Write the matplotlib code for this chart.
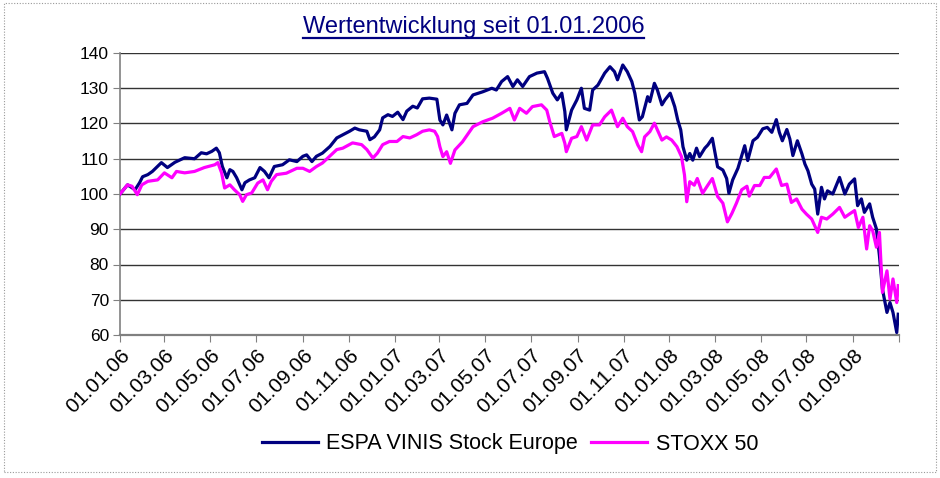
import matplotlib
matplotlib.use('Agg')
import matplotlib.pyplot as plt
import pandas as pd
from matplotlib.lines import Line2D
from matplotlib.patches import Rectangle

plt.rcParams['font.family'] = ['Liberation Sans', 'DejaVu Sans']

title_text = 'Wertentwicklung seit 01.01.2006'
series_names = ['ESPA VINIS Stock Europe', 'STOXX 50']

tick_dates = ['2006-01-01', '2006-03-01', '2006-05-01', '2006-07-01', '2006-09-01', '2006-11-01',
              '2007-01-01', '2007-03-01', '2007-05-01', '2007-07-01', '2007-09-01', '2007-11-01',
              '2008-01-01', '2008-03-01', '2008-05-01', '2008-07-01', '2008-09-01', '2008-11-01']
tick_labels = ['01.01.06', '01.03.06', '01.05.06', '01.07.06', '01.09.06', '01.11.06',
               '01.01.07', '01.03.07', '01.05.07', '01.07.07', '01.09.07', '01.11.07',
               '01.01.08', '01.03.08', '01.05.08', '01.07.08', '01.09.08', '']

espa_dates = [
    '2006-01-01', '2006-01-11', '2006-01-21', '2006-01-27', '2006-01-31', '2006-02-07', '2006-02-13',
    '2006-02-25', '2006-03-05', '2006-03-15', '2006-03-28', '2006-04-10', '2006-04-19', '2006-04-26',
    '2006-05-03', '2006-05-09', '2006-05-13', '2006-05-17', '2006-05-23', '2006-05-27', '2006-05-31',
    '2006-06-05', '2006-06-12', '2006-06-16', '2006-06-22', '2006-06-29', '2006-07-06', '2006-07-12',
    '2006-07-18', '2006-07-25', '2006-08-05', '2006-08-14', '2006-08-24', '2006-09-01', '2006-09-06',
    '2006-09-13', '2006-09-19', '2006-09-27', '2006-10-07', '2006-10-16', '2006-10-24', '2006-11-02',
    '2006-11-09', '2006-11-15', '2006-11-25', '2006-11-29', '2006-12-05', '2006-12-12', '2006-12-16',
    '2006-12-23', '2006-12-29', '2007-01-05', '2007-01-12', '2007-01-17', '2007-01-25', '2007-01-31',
    '2007-02-07', '2007-02-16', '2007-02-26', '2007-03-02', '2007-03-06', '2007-03-11', '2007-03-18',
    '2007-03-22', '2007-03-28', '2007-04-07', '2007-04-15', '2007-04-28', '2007-05-10', '2007-05-16',
    '2007-05-23', '2007-05-31', '2007-06-07', '2007-06-13', '2007-06-20', '2007-06-29', '2007-07-09',
    '2007-07-19', '2007-07-23', '2007-07-30', '2007-08-05', '2007-08-11', '2007-08-15', '2007-08-17',
    '2007-08-24', '2007-08-31', '2007-09-06', '2007-09-10', '2007-09-17', '2007-09-21', '2007-09-28',
    '2007-10-07', '2007-10-14', '2007-10-20', '2007-10-24', '2007-10-31', '2007-11-06', '2007-11-12',
    '2007-11-16', '2007-11-22', '2007-11-26', '2007-12-03', '2007-12-06', '2007-12-12', '2007-12-16',
    '2007-12-22', '2007-12-26', '2008-01-02', '2008-01-08', '2008-01-12', '2008-01-16', '2008-01-19',
    '2008-01-24', '2008-01-28', '2008-02-01', '2008-02-06', '2008-02-10', '2008-02-17', '2008-02-21',
    '2008-02-27', '2008-03-05', '2008-03-12', '2008-03-17', '2008-03-20', '2008-03-25', '2008-04-01',
    '2008-04-10', '2008-04-14', '2008-04-21', '2008-04-27', '2008-05-04', '2008-05-10', '2008-05-16',
    '2008-05-22', '2008-05-26', '2008-05-30', '2008-06-05', '2008-06-09', '2008-06-13', '2008-06-19',
    '2008-06-25', '2008-06-29', '2008-07-03', '2008-07-08', '2008-07-12', '2008-07-16', '2008-07-21',
    '2008-07-25', '2008-07-29', '2008-08-05', '2008-08-14', '2008-08-21', '2008-08-27', '2008-09-03',
    '2008-09-07', '2008-09-12', '2008-09-16', '2008-09-23', '2008-09-27', '2008-10-02', '2008-10-06',
    '2008-10-10', '2008-10-16', '2008-10-20', '2008-10-24', '2008-10-29', '2008-10-31']
espa_values = [
    100.0, 102.6, 101.2, 103.2, 104.9, 105.5, 106.4,
    108.9, 107.5, 109.0, 110.3, 110.0, 111.7, 111.4,
    112.1, 113.0, 111.7, 107.8, 104.6, 106.9, 106.4,
    104.6, 101.2, 103.2, 104.0, 104.6, 107.5, 106.4,
    104.6, 107.8, 108.3, 109.7, 109.2, 110.7, 111.1,
    109.2, 110.7, 111.6, 113.5, 115.9, 116.8, 117.8,
    118.7, 118.2, 117.8, 115.4, 116.2, 118.2, 121.6,
    122.5, 122.0, 123.2, 121.1, 123.5, 124.9, 124.4,
    127.0, 127.2, 126.9, 121.0, 119.6, 122.4, 118.2,
    122.9, 125.3, 125.7, 128.1, 129.0, 130.0, 129.5,
    131.9, 133.3, 130.5, 132.4, 130.5, 133.3, 134.3,
    134.7, 132.8, 128.6, 126.7, 128.6, 123.4, 118.2,
    123.8, 126.7, 130.0, 124.3, 123.8, 129.5, 130.9,
    134.3, 136.1, 134.7, 132.4, 136.6, 134.7, 131.9,
    128.6, 121.0, 121.9, 127.6, 126.2, 131.4, 129.5,
    125.3, 126.7, 128.6, 124.8, 121.0, 118.2, 113.4,
    109.6, 111.5, 109.6, 113.0, 110.6, 113.0, 113.9,
    115.8, 107.7, 106.8, 104.4, 100.2, 104.0, 107.3,
    113.7, 109.5, 115.1, 116.1, 118.5, 118.9, 117.5,
    121.1, 117.5, 115.1, 118.3, 115.6, 110.9, 115.1,
    111.4, 108.5, 106.6, 102.8, 101.4, 94.3, 101.9,
    98.6, 100.9, 100.0, 104.7, 100.0, 102.8, 104.3,
    96.7, 98.6, 94.8, 97.2, 93.4, 90.1, 82.5,
    73.0, 66.4, 69.2, 66.4, 60.7, 65.9]

stoxx_dates = [
    '2006-01-01', '2006-01-11', '2006-01-17', '2006-01-24', '2006-01-30', '2006-02-07', '2006-02-20',
    '2006-03-01', '2006-03-11', '2006-03-17', '2006-03-28', '2006-04-10', '2006-04-23', '2006-05-07',
    '2006-05-11', '2006-05-16', '2006-05-20', '2006-05-27', '2006-06-02', '2006-06-09', '2006-06-13',
    '2006-06-18', '2006-06-25', '2006-07-03', '2006-07-10', '2006-07-16', '2006-07-21', '2006-07-28',
    '2006-08-10', '2006-08-24', '2006-09-01', '2006-09-10', '2006-09-19', '2006-09-27', '2006-10-04',
    '2006-10-16', '2006-10-24', '2006-11-06', '2006-11-18', '2006-11-25', '2006-12-03', '2006-12-09',
    '2006-12-16', '2006-12-25', '2007-01-04', '2007-01-12', '2007-01-21', '2007-01-30', '2007-02-07',
    '2007-02-16', '2007-02-23', '2007-02-27', '2007-03-02', '2007-03-06', '2007-03-11', '2007-03-16',
    '2007-03-22', '2007-04-01', '2007-04-15', '2007-04-28', '2007-05-11', '2007-05-23', '2007-06-03',
    '2007-06-09', '2007-06-16', '2007-06-25', '2007-07-03', '2007-07-15', '2007-07-22', '2007-07-26',
    '2007-08-01', '2007-08-11', '2007-08-15', '2007-08-17', '2007-08-24', '2007-08-31', '2007-09-06',
    '2007-09-13', '2007-09-21', '2007-09-30', '2007-10-07', '2007-10-16', '2007-10-24', '2007-10-31',
    '2007-11-06', '2007-11-13', '2007-11-20', '2007-11-25', '2007-11-29', '2007-12-06', '2007-12-12',
    '2007-12-16', '2007-12-22', '2007-12-28', '2008-01-04', '2008-01-11', '2008-01-17', '2008-01-21',
    '2008-01-24', '2008-01-28', '2008-02-03', '2008-02-07', '2008-02-14', '2008-02-21', '2008-02-27',
    '2008-03-05', '2008-03-12', '2008-03-18', '2008-03-24', '2008-03-30', '2008-04-06', '2008-04-13',
    '2008-04-16', '2008-04-23', '2008-04-30', '2008-05-06', '2008-05-13', '2008-05-22', '2008-05-29',
    '2008-06-05', '2008-06-11', '2008-06-18', '2008-06-25', '2008-07-01', '2008-07-08', '2008-07-16',
    '2008-07-21', '2008-07-28', '2008-08-05', '2008-08-14', '2008-08-21', '2008-08-27', '2008-09-03',
    '2008-09-08', '2008-09-14', '2008-09-19', '2008-09-23', '2008-09-27', '2008-10-02', '2008-10-06',
    '2008-10-10', '2008-10-16', '2008-10-20', '2008-10-24', '2008-10-29', '2008-10-31']
stoxx_values = [
    100.0, 102.6, 102.2, 99.8, 102.6, 103.6, 104.0,
    106.0, 104.6, 106.4, 106.0, 106.4, 107.5, 108.3,
    108.9, 106.0, 101.7, 102.6, 101.2, 99.8, 97.9,
    99.8, 100.3, 103.1, 104.0, 101.2, 103.6, 105.5,
    105.9, 107.3, 107.3, 106.4, 107.8, 108.8, 110.2,
    112.6, 113.0, 114.5, 114.0, 112.6, 110.2, 111.6,
    114.0, 114.9, 114.9, 116.3, 115.9, 116.8, 117.8,
    118.2, 117.8, 116.3, 113.4, 110.6, 112.0, 108.7,
    112.5, 114.8, 119.1, 120.5, 121.5, 122.9, 124.3,
    121.0, 124.3, 122.9, 124.8, 125.3, 123.8, 120.5,
    116.3, 117.2, 114.4, 112.0, 115.8, 116.3, 119.1,
    115.3, 119.6, 119.6, 121.9, 123.8, 119.1, 121.5,
    119.1, 117.7, 113.9, 112.0, 116.2, 117.7, 120.1,
    118.2, 115.3, 116.2, 115.3, 113.4, 110.6, 105.4,
    97.8, 103.5, 102.5, 104.4, 100.2, 102.5, 104.4,
    99.3, 97.4, 92.1, 94.5, 97.4, 101.2, 102.2,
    99.4, 102.4, 102.4, 104.7, 104.7, 107.1, 102.4,
    102.8, 97.6, 98.6, 95.7, 94.3, 92.9, 89.1,
    93.4, 92.9, 94.3, 96.2, 93.4, 94.3, 95.3,
    90.5, 93.4, 84.4, 91.0, 89.6, 84.9, 89.1,
    72.1, 78.2, 70.2, 75.9, 69.2, 74.0]

NAVY = '#000080'
MAGENTA = '#FF00FF'
W, H = 940, 478

fig = plt.figure(figsize=(W / 100, H / 100), dpi=100)
ax = fig.add_axes([120 / W, 1 - 335 / H, (899 - 120) / W, (335 - 53) / H])

ax.plot(pd.to_datetime(espa_dates), espa_values, color=NAVY, lw=2.3,
        solid_joinstyle='round', label=series_names[0], zorder=3)
ax.plot(pd.to_datetime(stoxx_dates), stoxx_values, color=MAGENTA, lw=2.3,
        solid_joinstyle='round', label=series_names[1], zorder=4)

ax.set_ylim(60, 140)
ax.set_yticks(range(60, 141, 10))
ax.set_xlim(pd.Timestamp('2006-01-01'), pd.Timestamp('2008-11-01'))
ax.set_xticks(pd.to_datetime(tick_dates))
ax.set_xticklabels(tick_labels, rotation=45, ha='right', va='top',
                   rotation_mode='anchor', fontsize=15)

ax.yaxis.grid(True, color='#333333', lw=1.0)
ax.set_axisbelow(True)
for s in ['top', 'right']:
    ax.spines[s].set_visible(False)
ax.spines['left'].set_color('#808080')
ax.spines['left'].set_linewidth(1.2)
ax.spines['bottom'].set_color('#808080')
ax.spines['bottom'].set_linewidth(1.6)
ax.tick_params(axis='y', length=5, color='#808080', labelsize=12.5, pad=3)
ax.tick_params(axis='x', length=5, color='#808080', pad=3)

fig.legend(loc='center', bbox_to_anchor=(510 / W, 1 - 444 / H), ncol=2, frameon=False,
           fontsize=15.5, handlelength=2.6, columnspacing=0.6, handletextpad=0.4)

t = fig.text(473.5 / W, 1 - 33 / H, title_text, ha='center', va='baseline',
             fontsize=17, color=NAVY)
fig.canvas.draw()
bb = t.get_window_extent()
uy = (H - 38) / H
fig.add_artist(Line2D([bb.x0 / W, bb.x1 / W], [uy, uy], transform=fig.transFigure,
                      color=NAVY, lw=1.6))

fig.add_artist(Rectangle((4 / W, 6 / H), 932 / W, 469 / H, transform=fig.transFigure,
                         fill=False, ls=(0, (1, 1.5)), lw=0.8, edgecolor='#999999'))

fig.savefig('out.png', dpi=100)
